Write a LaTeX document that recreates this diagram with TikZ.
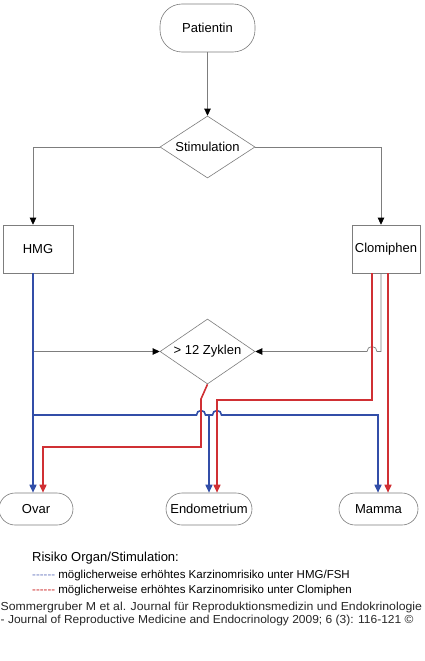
\documentclass[tikz,border=0pt]{standalone}
\usepackage{fontspec}
\setmainfont{Liberation Sans}
\usetikzlibrary{shapes.geometric,arrows.meta}
\definecolor{lnblue}{RGB}{50,78,168}
\definecolor{lnred}{RGB}{208,48,52}
\definecolor{lngray}{RGB}{125,125,125}
\definecolor{legblue}{RGB}{110,125,195}
\definecolor{legred}{RGB}{205,40,40}
\begin{document}
\begin{tikzpicture}[x=1pt,y=-1pt,
  lbl/.style={font=\fontsize{13}{15}\selectfont, text=black},
  sqbox/.style={lbl, draw=lngray, line width=0.6pt, minimum height=48pt, inner sep=0pt},
  termbox/.style={lbl, draw=lngray, line width=0.6pt, rounded corners=16pt, minimum height=32pt, inner sep=0pt},
  startbox/.style={lbl, draw=lngray, line width=0.6pt, rounded corners=22pt, minimum height=48pt, minimum width=95pt, inner sep=0pt},
  decbox/.style={lbl, draw=lngray, line width=0.6pt, diamond, aspect=1.6, minimum width=95pt, inner sep=0pt},
  gline/.style={draw=lngray, line width=0.7pt},
  garrow/.style={gline, -{Triangle[length=7pt,width=6.5pt,color=black]}},
  bline/.style={draw=lnblue, line width=1.6pt},
  barrow/.style={bline, -{Triangle[length=8pt,width=7pt]}},
  rline/.style={draw=lnred, line width=1.6pt},
  rarrow/.style={rline, -{Triangle[length=8pt,width=7pt]}},
  legtitle/.style={font=\fontsize{13}{15}\selectfont, anchor=base west, inner sep=0pt},
  legline/.style={font=\fontsize{11.5}{13}\selectfont, anchor=base west, inner sep=0pt},
  cite/.style={font=\fontsize{11.6}{13}\selectfont, anchor=base west, inner sep=0pt, text=black!85}
]
\useasboundingbox[fill=white] (0,0) rectangle (425,661);

% nodes
\node[startbox] (pat) at (207.5,28) {Patientin};
\node[decbox, minimum height=62pt] (stim) at (207.5,147) {Stimulation};
\node[sqbox, minimum width=70pt] (hmg) at (38,249) {HMG};
\node[sqbox, minimum width=68pt] (clo) at (386,249) {Clomiphen};
\node[decbox, minimum height=65pt] (zyk) at (207.5,351.5) {> 12 Zyklen};
\node[termbox, minimum width=74pt] (ovar) at (36,509) {Ovar};
\node[termbox, minimum width=86pt] (endo) at (209,509) {Endometrium};
\node[termbox, minimum width=79pt] (mam) at (378.5,509) {Mamma};

% x positions of the connectors
\coordinate (xb1) at (33,0);
\coordinate (xr1) at (43,0);
\coordinate (xb2) at (209,0);
\coordinate (xr2) at (217,0);
\coordinate (xb3) at (378,0);
\coordinate (xr3) at (388,0);
\coordinate (xg) at (381,0);
\coordinate (xrc) at (372,0);
\coordinate (jb) at (33,415);
\coordinate (zr) at (201,399);

% gray flow
\draw[garrow] (pat) -- (stim.north);
\draw[garrow] (stim.west) -| (hmg.north -| xb1);
\draw[garrow] (stim.east) -| (clo.north -| xg);
\draw[garrow] (jb |- zyk.west) -- (zyk.west);
\draw[garrow] (clo.south -| xg) -- (381,351.5) -- (377,351.5)
   .. controls (377,348.7) and (374.8,346.5) .. (372,346.5)
   .. controls (369.2,346.5) and (367,348.7) .. (367,351.5) -- (zyk.east);

% blue (HMG)
\draw[barrow] (hmg.south -| xb1) -- (ovar.north -| xb1);
\draw[bline] (jb) -- (196.5,415)
   .. controls (196.5,412.5) and (198.5,410.5) .. (201,410.5)
   .. controls (203.5,410.5) and (205.5,412.5) .. (205.5,415) -- (212.5,415)
   .. controls (212.5,412.5) and (214.5,410.5) .. (217,410.5)
   .. controls (219.5,410.5) and (221.5,412.5) .. (221.5,415) -- (378,415);
\draw[barrow] (378,414.2) -- (mam.north -| xb3);
\draw[barrow] (209,415) -- (endo.north -| xb2);

% red (Clomiphen)
\draw[rarrow] (clo.south -| xrc) -- (372,400) -- (217,400) -- (endo.north -| xr2);
\draw[rarrow] (clo.south -| xr3) -- (mam.north -| xr3);
\draw[rarrow] (zyk.south) -- (zr) -- (201,447) -- (43,447) -- (ovar.north -| xr1);

% legend
\node[legtitle] (lt) at (32,561) {Risiko Organ/Stimulation:};
\node[legline] (l1) at (32,578) {\textcolor{legblue}{-{}-{}-{}-{}-{}-} möglicherweise erhöhtes Karzinomrisiko unter HMG/FSH};
\node[legline] (l2) at (32,593) {\textcolor{legred}{-{}-{}-{}-{}-{}-} möglicherweise erhöhtes Karzinomrisiko unter Clomiphen};
\node[cite] (c1) at (0.5,610) {\scalebox{1.058}[1]{Sommergruber M et al. Journal für Reproduktionsmedizin und Endokrinologie}};
\node[cite] (c2) at (0.5,623) {\scalebox{1.035}[1]{- Journal of Reproductive Medicine and Endocrinology 2009; 6 (3): 116-121 ©}};
\end{tikzpicture}
\end{document}
